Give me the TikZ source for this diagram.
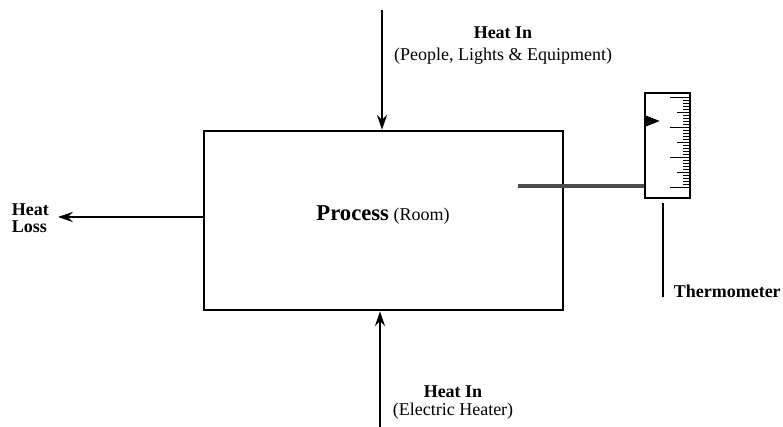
\documentclass[tikz,border=0pt]{standalone}
\usepackage{fontspec}
\setmainfont{Liberation Serif}
\usetikzlibrary{positioning,arrows.meta,calc}

\begin{document}
\begin{tikzpicture}[>={Stealth[length=11pt,width=7.5pt]},x=0.75pt,y=-0.75pt,line width=2pt,font=\fontsize{13.5}{15.5}\selectfont]
  \useasboundingbox (0,0) rectangle (783,427);
  \node[draw,minimum width=269.25pt,minimum height=134.25pt,inner sep=0pt] (room) at (383.5,220.5) {};
  \node (proc) at (383,215) {{\fontsize{17}{19}\selectfont\textbf{Process}} (Room)};
  \node[align=center] (topl) at (503,46) {\textbf{Heat In}\\[1pt](People, Lights \& Equipment)};
  \node[align=center] (botl) at (453,403) {\textbf{Heat In}\\[-2pt](Electric Heater)};
  \node[align=left,anchor=west] (loss) at (6,218) {\textbf{Heat}\\[-3pt]\textbf{Loss}};
  \coordinate (topin) at (382,10);
  \coordinate (botin) at (380,427);
  \coordinate (losstip) at (58,217);
  \draw[->] (topin) -- (topin |- room.north);
  \draw[->] (botin) -- (botin |- room.south);
  \draw[->] (room.west |- losstip) -- (losstip);
  % thermometer
  \node[draw,minimum width=33.75pt,minimum height=78.75pt,inner sep=0pt] (thermo) at (667.5,145.5) {};
  \foreach \i in {0,...,30} {
    \pgfmathsetmacro\tl{ifthenelse(mod(\i,10)==0,19,ifthenelse(mod(\i,5)==0,12,6))}
    \draw[line width=1.2pt] ($(thermo.north east)+(-2,6+3*\i)$) -- ++(-\tl,0);
  }
  \fill ($(thermo.west)+(1,-30.5)$) -- ++(15,6) -- ++(-15,6) -- cycle;
  \coordinate (probe) at (518,186);
  \draw[line width=2.5pt,black!70] (probe) -- (probe -| thermo.west);
  \node[anchor=west] (tlabel) at (668,291) {\textbf{Thermometer}};
  \coordinate (stemtop) at (663,203);
  \coordinate (stembot) at (663,297);
  \draw (stemtop) -- (stembot);
\end{tikzpicture}
\end{document}
